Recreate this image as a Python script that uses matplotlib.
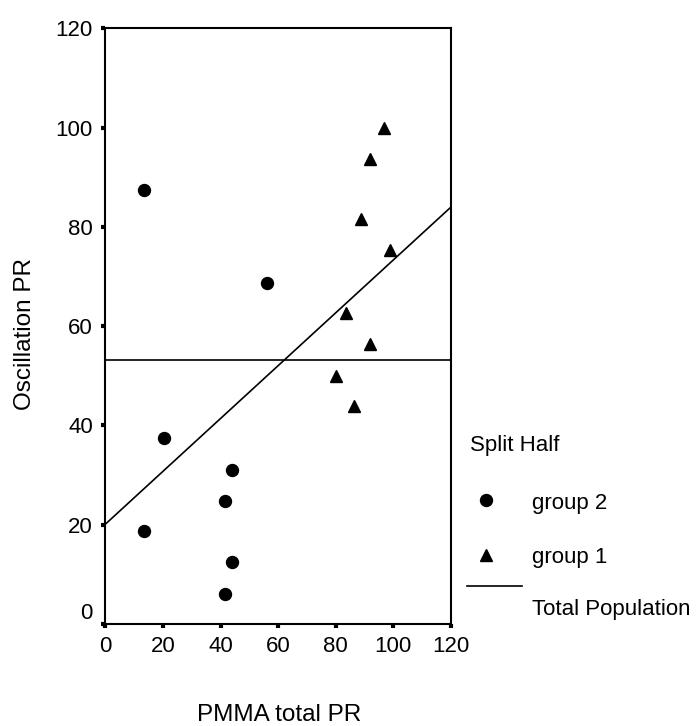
import matplotlib
matplotlib.use('Agg')
import matplotlib.pyplot as plt
from matplotlib.lines import Line2D
import numpy as np

plt.rcParams['font.family'] = ['Liberation Sans', 'DejaVu Sans']

# group 2 (circles)
g2_x = [13.3, 56.3, 20.2, 43.9, 41.4, 13.3, 43.9, 41.4]
g2_y = [87.4, 68.6, 37.5, 31.0, 24.8, 18.7, 12.5, 6.0]

# group 1 (triangles)
g1_x = [96.9, 92.0, 88.8, 98.7, 83.7, 92.0, 80.0, 86.3]
g1_y = [100.0, 93.6, 81.5, 75.3, 62.6, 56.4, 50.0, 43.9]

ticks = [0, 20, 40, 60, 80, 100, 120]

all_x = np.array(g2_x + g1_x)
all_y = np.array(g2_y + g1_y)
slope, intercept = np.polyfit(all_x, all_y, 1)
mean_y = all_y.mean()

fig = plt.figure(figsize=(7, 7.26), dpi=100)
ax = fig.add_axes([0.1507, 0.1405, 0.4933, 0.8205])

ax.plot(g2_x, g2_y, 'o', color='black', markersize=8.6, linestyle='none')
ax.plot(g1_x, g1_y, '^', color='black', markersize=8.5, linestyle='none')

xs = np.array([0, 120])
ax.plot(xs, intercept + slope * xs, color='black', linewidth=1.2)
ax.axhline(mean_y, color='black', linewidth=1.2)

ax.set_xlim(0, 120)
ax.set_ylim(0, 120)
ax.set_xticks(ticks)
ax.set_yticks(ticks)
ax.tick_params(direction='out', length=3, width=3, labelsize=16, pad=6)
ax.get_yticklabels()[0].set_va('bottom')
for s in ax.spines.values():
    s.set_linewidth(1.5)

W, H = 700, 726
fig.text(279 / W, 1 - 715 / H, 'PMMA total PR', fontsize=17.5,
         ha='center', va='center')
fig.text(25.5 / W, 1 - 334 / H, 'Oscillation PR', fontsize=17.5,
         ha='center', va='center', rotation=90)

# legend
fig.text(470 / W, 1 - 445 / H, 'Split Half', fontsize=16, va='center')
fig.add_artist(Line2D([486 / W], [1 - 500 / H], marker='o', color='black',
                      markersize=8.6, linestyle='none'))
fig.text(532 / W, 1 - 503 / H, 'group 2', fontsize=16, va='center')
fig.add_artist(Line2D([486 / W], [1 - 555 / H], marker='^', color='black',
                      markersize=8.5, linestyle='none'))
fig.text(532 / W, 1 - 558 / H, 'group 1', fontsize=16, va='center')
fig.add_artist(Line2D([467 / W, 522 / W], [1 - 586 / H, 1 - 586 / H],
                      color='black', linewidth=1.2))
fig.text(532 / W, 1 - 610 / H, 'Total Population', fontsize=16, va='center')

fig.savefig('out.png', dpi=100)
